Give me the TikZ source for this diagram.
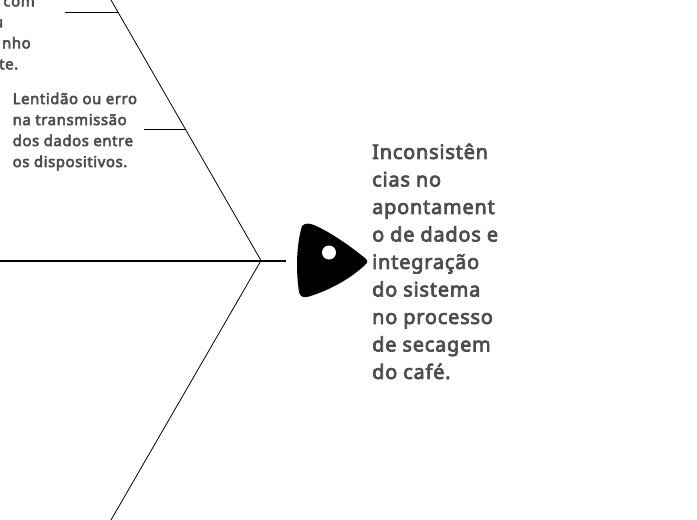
\documentclass[tikz,border=0pt]{standalone}
\usepackage{fontspec}
\setmainfont{Noto Sans}[FakeBold=3.6, LetterSpace=4]
\usetikzlibrary{positioning,calc}
\definecolor{fbtext}{HTML}{4D4D4D}

\begin{document}
\begin{tikzpicture}[
  x=1pt, y=-1pt,
  cause/.style={align=left, inner sep=0pt, text=fbtext, font=\fontsize{14.9}{21}\selectfont},
  effect/.style={align=left, inner sep=0pt, text=fbtext, font=\fontsize{19.9}{27.5}\selectfont},
  bone/.style={draw=black, line width=0.8pt},
  spine/.style={draw=black, line width=2pt}
]
\useasboundingbox (0,0) rectangle (697,520);
\coordinate (tail) at (0,260.5);
\coordinate (joint) at (261,260.5);
\coordinate (neck) at (286,260.5);
\coordinate (top) at (111,0);
\coordinate (bottom) at (111,520);
\coordinate (a1) at (65,12.5);
\coordinate (a2) at (118,12.5);
\coordinate (b1) at (144,129);
\coordinate (b2) at (185,129);
\draw[spine] (tail) -- (neck);
\draw[bone] (top) -- (joint);
\draw[bone] (joint) -- (bottom);
\draw[bone] (a1) -- (a2);
\draw[bone] (b1) -- (b2);
\fill[black] (302,226) .. controls (305,223) and (309,223) .. (314,225)
  .. controls (332,233) and (350,246) .. (365,258)
  .. controls (368,260.5) and (368,262.5) .. (365,265)
  .. controls (350,279) and (330,290) .. (309,296.5)
  .. controls (304,298) and (300,297) .. (299,292)
  .. controls (296,272) and (296,246) .. (302,226) -- cycle;
\node[circle, fill=white, minimum size=14pt, inner sep=0pt] (eye) at (329,252.5) {};
\node[cause, anchor=north west] (causea) at (0,-2) {\makebox[34.5pt][r]{com}\\\makebox[3pt][r]{u}\\\makebox[30.5pt][r]{nho}\\\makebox[18pt][r]{te.}};
\node[cause, anchor=north west] (causeb) at (12.5,92.5) {Lentidão ou erro\\na transmissão\\dos dados entre\\os dispositivos.};
\node[effect, anchor=north west] (head) at (372,143.5) {Inconsistên\\cias no\\apontament\\o de dados e\\integração\\do sistema\\no processo\\de secagem\\do café.};
\end{tikzpicture}
\end{document}
